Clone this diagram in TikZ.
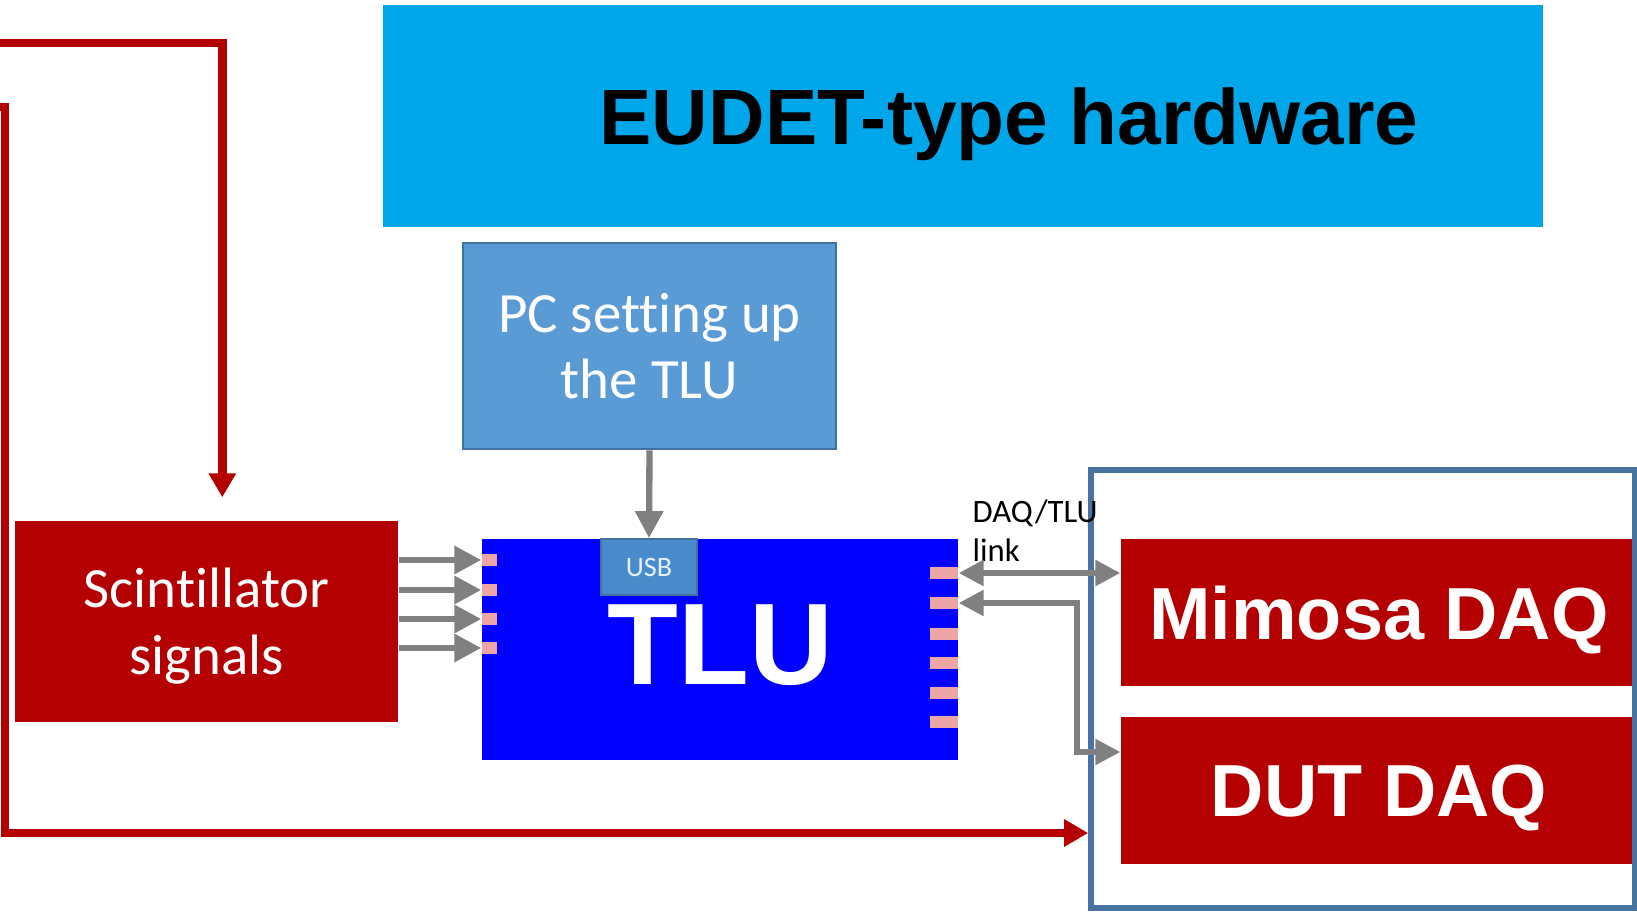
\documentclass[tikz,border=0pt]{standalone}
\usepackage{fontspec}
\setmainfont{Carlito}[Ligatures=NoCommon]
\newfontfamily\arialfont{Liberation Sans}
\usepackage{tikz}
\usetikzlibrary{shapes,arrows,arrows.meta,positioning}
\definecolor{BannerCyan}{RGB}{0,166,234}
\definecolor{PcBlue}{RGB}{91,155,213}
\definecolor{PcEdge}{RGB}{65,113,156}
\definecolor{UsbBlue}{RGB}{74,140,203}
\definecolor{TluBlue}{RGB}{0,0,255}
\definecolor{DaqRed}{RGB}{180,0,0}
\definecolor{FrameBlue}{RGB}{70,115,160}
\definecolor{PadPink}{RGB}{238,165,165}
\definecolor{LinkGray}{RGB}{128,128,128}

\tikzset{
  box/.style={rectangle, inner sep=0pt, text depth=0pt, align=center},
  redbox/.style={box, fill=DaqRed, text=white},
  lpad/.style={rectangle, fill=PadPink, inner sep=0pt, minimum width=0.15cm, minimum height=0.12cm},
  rpad/.style={rectangle, fill=PadPink, inner sep=0pt, minimum width=0.28cm, minimum height=0.12cm},
  graywire/.style={draw=LinkGray, line width=1.8pt, -{Triangle[length=0.27cm,width=0.27cm]}},
  graylink/.style={draw=LinkGray, line width=1.6pt, {Triangle[length=0.25cm,width=0.25cm]}-{Triangle[length=0.25cm,width=0.25cm]}},
  redwire/.style={draw=DaqRed, line width=2.5pt, -{Triangle[length=0.24cm,width=0.26cm]}}
}

\begin{document}
\begin{tikzpicture}
    \useasboundingbox (0,0) rectangle (16.37,-9.12);

    % Hardware banner
    \node[box, fill=BannerCyan, minimum width=11.60cm, minimum height=2.22cm,
          font=\arialfont\bfseries\fontsize{22.3}{26}\selectfont] (banner) at (9.63,-1.16)
          {\hspace*{0.92cm}EUDET-type hardware};

    \node[box, fill=PcBlue, draw=PcEdge, line width=0.8pt, minimum width=3.73cm, minimum height=2.06cm,
          text=white, font=\fontsize{16.2}{19}\selectfont] (pc) at (6.495,-3.46) {PC setting up\\the TLU};

    \node[redbox, minimum width=3.83cm, minimum height=2.01cm,
          font=\fontsize{16.2}{19}\selectfont] (scint) at (2.065,-6.215) {Scintillator\\signals};

    \node[box, fill=TluBlue, minimum width=4.76cm, minimum height=2.21cm, text=white, text depth=0.09cm,
          font=\arialfont\bfseries\fontsize{33}{38}\selectfont] (tlu) at (7.20,-6.495) {TLU};
    \node[box, fill=UsbBlue, draw=PcEdge, line width=0.5pt, minimum width=0.96cm, minimum height=0.56cm,
          text={rgb,255:red,230;green,240;blue,250}, font=\fontsize{8}{10}\selectfont] (usb) at (6.49,-5.67) {USB};

    % TLU connectors
    \foreach \y [count=\i] in {5.60,5.90,6.19,6.48}
      \node[lpad] (lpad\i) at (4.895,-\y) {};
    \foreach \y [count=\i] in {5.73,6.03,6.34,6.63,6.93,7.22}
      \node[rpad] (rpad\i) at (9.44,-\y) {};

    % DAQ side
    \node[redbox, minimum width=5.16cm, minimum height=1.47cm,
          font=\arialfont\bfseries\fontsize{21}{25}\selectfont] (mimosa) at (13.79,-6.125) {Mimosa DAQ};
    \node[redbox, minimum width=5.16cm, minimum height=1.47cm,
          font=\arialfont\bfseries\fontsize{21}{25}\selectfont] (dut) at (13.79,-7.905) {DUT DAQ};
    \node[draw=FrameBlue, line width=1.6pt, inner sep=0pt, minimum width=5.435cm, minimum height=4.38cm] (daqframe) at (13.6275,-6.89) {};

    \node[align=left, inner sep=0pt, anchor=north west, font=\fontsize{9.3}{11}\selectfont] (linklabel) at (9.72,-4.99) {DAQ/TLU\\link};

    % Signal arrows
    \foreach \i in {1,...,4}
      \draw[graywire] (scint.east |- lpad\i) -- (lpad\i.west);
    \draw[graywire] (pc.south) -- (usb.north);
    \draw[graylink] (rpad1.east) -- (rpad1.east -| mimosa.west);
    \draw[graylink] (rpad2.east) -- (10.77,-6.03) |- ([yshift=0.385cm]dut.west);

    % Trigger lines
    \coordinate (feedA) at (0,-0.43);
    \coordinate (feedB) at (0,-1.07);
    \draw[redwire] (feedA) -| ([shift={(2.08,0.23)}]scint.north west);
    \draw[redwire] (feedB) -- ++(0.05,0) |- (daqframe.west |- 0,-8.33);
\end{tikzpicture}
\end{document}
